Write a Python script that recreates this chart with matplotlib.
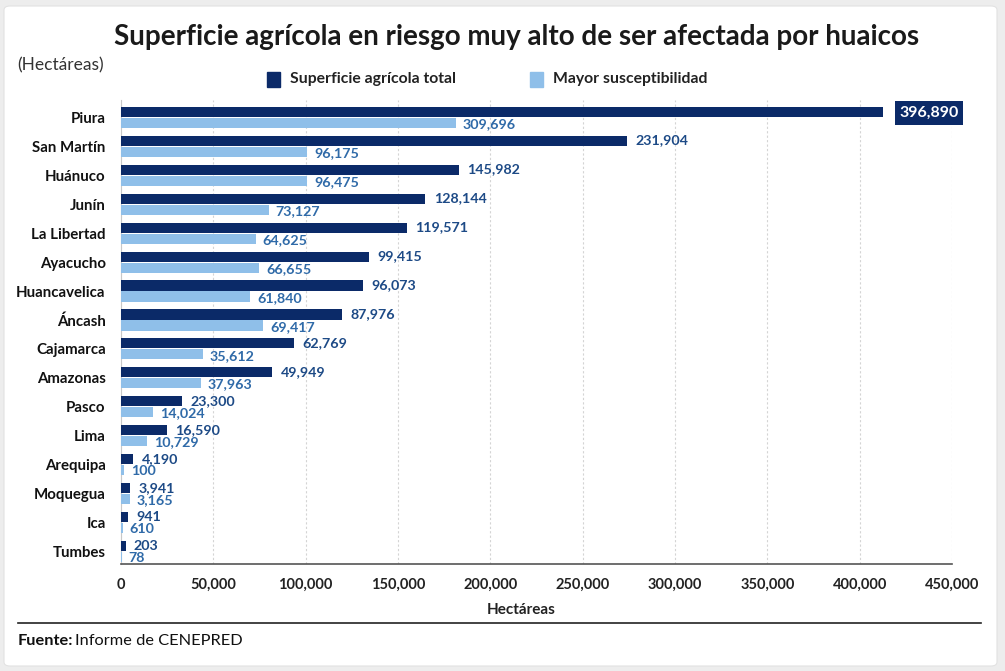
import matplotlib
matplotlib.use("Agg")
import matplotlib.pyplot as plt
from matplotlib.patches import FancyBboxPatch
from matplotlib.ticker import FuncFormatter

plt.rcParams['font.family'] = ['Lato', 'DejaVu Sans']

# data
regiones = ['Piura', 'San Martín', 'Huánuco', 'Junín', 'La Libertad', 'Ayacucho',
            'Huancavelica', 'Áncash', 'Cajamarca', 'Amazonas', 'Pasco', 'Lima',
            'Arequipa', 'Moquegua', 'Ica', 'Tumbes']
# labels printed on the chart
total_lbl = [396890, 231904, 145982, 128144, 119571, 99415, 96073, 87976,
             62769, 49949, 23300, 16590, 4190, 3941, 941, 203]
suscep_lbl = [309696, 96175, 96475, 73127, 64625, 66655, 61840, 69417,
              35612, 37963, 14024, 10729, 100, 3165, 610, 78]
# bar lengths as drawn in the picture (they don't follow the labels)
total_bar = [412500, 274200, 182900, 164800, 155000, 134300, 130900, 119800,
             93800, 81900, 33200, 24700, 6700, 4900, 3600, 2500]
suscep_bar = [181400, 100900, 100900, 80100, 72900, 74700, 69900, 77100,
              44200, 43300, 17500, 14200, 1600, 4900, 900, 500]
xticks = [0, 50000, 100000, 150000, 200000, 250000, 300000, 350000, 400000, 450000]

DARK = '#0b2a68'
LIGHT = '#8fbfe9'
LBL_DARK = '#1d4a86'
LBL_LIGHT = '#2f6aa8'

W, H = 1005, 671
fig = plt.figure(figsize=(W / 100, H / 100), dpi=100)
fig.patch.set_facecolor('#ededed')

# white card behind everything
card = FancyBboxPatch((4 / W, 5 / H), 993 / W, 660 / H,
                      boxstyle="round,pad=0,rounding_size=0.006",
                      transform=fig.transFigure, facecolor='white',
                      edgecolor='#e2e2e2', linewidth=0.8, zorder=-5)
fig.patches.append(card)


def fx(px):
    return px / W


def fy(py):
    return 1 - py / H


fig.text(fx(517), fy(37), 'Superficie agrícola en riesgo muy alto de ser afectada por huaicos',
         ha='center', va='center', fontsize=20, fontweight='bold', color='#1a1a1a')
fig.text(fx(17), fy(65), '(Hectáreas)', ha='left', va='center', fontsize=12.5,
         color='#333333')

# legend
fig.patches.append(plt.Rectangle((fx(267), fy(87)), 13 / W, 15 / H,
                                 transform=fig.transFigure, color=DARK))
fig.text(fx(290), fy(79), 'Superficie agrícola total', ha='left', va='center',
         fontsize=11.3, fontweight='bold', color='#222222')
fig.patches.append(plt.Rectangle((fx(530), fy(87)), 13 / W, 15 / H,
                                 transform=fig.transFigure, color=LIGHT))
fig.text(fx(553), fy(79), 'Mayor susceptibilidad', ha='left', va='center',
         fontsize=11.3, fontweight='bold', color='#222222')

ax = fig.add_axes([121 / W, 107 / H, 831 / W, 464 / H])
ax.set_facecolor('none')

n = len(regiones)
pos = list(range(n))
h = 0.35
ax.barh([p - 0.19 for p in pos], total_bar, height=h, color=DARK, zorder=3)
ax.barh([p + 0.19 for p in pos], suscep_bar, height=h, color=LIGHT, zorder=3)

for i in range(n):
    txt = format(total_lbl[i], ',')
    if i == 0:
        ax.annotate(txt, (total_bar[i], i - 0.15), xytext=(12, 0), textcoords='offset points',
                    ha='left', va='center', fontsize=11.5, fontweight='bold', color='white',
                    bbox=dict(boxstyle='square,pad=0.3', facecolor=DARK, edgecolor='none'))
    else:
        ax.annotate(txt, (total_bar[i], i - 0.2), xytext=(6, 0), textcoords='offset points',
                    ha='left', va='center', fontsize=10.3, fontweight='bold', color=LBL_DARK)
    ax.annotate(format(suscep_lbl[i], ','), (suscep_bar[i], i + 0.23), xytext=(5, 0),
                textcoords='offset points', ha='left', va='center', fontsize=10.3,
                fontweight='bold', color=LBL_LIGHT)

ax.set_ylim(n - 0.57, -0.6)
ax.set_xlim(0, 450000)
ax.set_yticks(pos)
ax.set_yticklabels(regiones, fontsize=10.8, fontweight='bold', color='#111111')
ax.set_xticks(xticks)
ax.xaxis.set_major_formatter(FuncFormatter(lambda v, p: format(int(v), ',')))
for lab in ax.get_xticklabels():
    lab.set_fontweight('bold')
    lab.set_fontsize(10.5)
    lab.set_color('#222222')
ax.tick_params(axis='both', length=0)
ax.tick_params(axis='y', pad=11)
ax.tick_params(axis='x', pad=10)

ax.grid(axis='x', color='#d4d4d4', linestyle=(0, (2, 2)), linewidth=0.8, zorder=0)
for s in ['top', 'right']:
    ax.spines[s].set_visible(False)
ax.spines['left'].set_color('#c8c8c8')
ax.spines['left'].set_linewidth(0.8)
ax.spines['bottom'].set_color('#555555')
ax.spines['bottom'].set_linewidth(1.2)

ax.set_xlabel('Hectáreas', fontsize=11, fontweight='bold', color='#222222')
ax.xaxis.set_label_coords((521 - 121) / 831, -0.085)

# footer
fig.add_artist(plt.Line2D([fx(18), fx(981)], [fy(623), fy(623)], color='#222222',
                          linewidth=1.2, transform=fig.transFigure))
fig.text(fx(18), fy(641), 'Fuente:', ha='left', va='center', fontsize=11.8,
         fontweight='bold', color='#111111')
fig.text(fx(75), fy(641), 'Informe de CENEPRED', ha='left', va='center', fontsize=11.8,
         color='#111111')

fig.savefig('out.png', dpi=100, facecolor=fig.get_facecolor())
